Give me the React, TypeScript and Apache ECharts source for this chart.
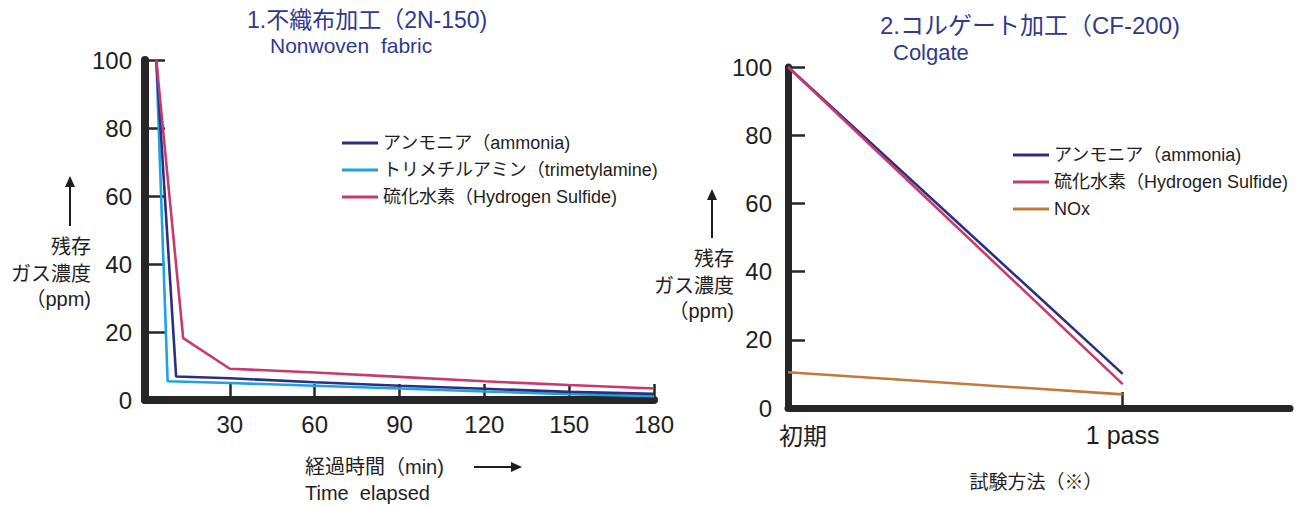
import React, { useEffect, useRef } from "react";
import * as echarts from "echarts";

const FONT = '"Liberation Sans", Arial, "Noto Sans CJK JP", sans-serif';
const CJK = '"Noto Sans CJK JP", "Liberation Sans", sans-serif';
const INK = "#1e1e1e";
const AXIS = "#262626";
const TITLE = "#2f3a8f";

// ---- Chart 1: 不織布加工 (2N-150) ----
const xTicks1 = [30, 60, 90, 120, 150, 180];
const yTicks = [0, 20, 40, 60, 80, 100];
const names1 = [
  "アンモニア（ammonia)",
  "トリメチルアミン（trimetylamine)",
  "硫化水素（Hydrogen Sulfide)",
];
const ammoniaT1 = [4, 11, 30, 60, 90, 120, 150, 180];
const ammoniaV1 = [100, 6.9, 6.4, 5.2, 4.2, 3.3, 2.4, 1.8];
const tmaT1 = [4, 8, 30, 60, 90, 120, 150, 180];
const tmaV1 = [100, 5.5, 5.0, 4.2, 3.4, 2.5, 1.7, 1.1];
const h2sT1 = [4, 13.5, 30, 60, 90, 120, 150, 180];
const h2sV1 = [100, 18.2, 9.2, 8.1, 6.8, 5.5, 4.4, 3.4];

// ---- Chart 2: コルゲート加工 (CF-200) ----
const passPos = [0, 1];
const passLabels = ["初期", "1 pass"];
const names2 = ["アンモニア（ammonia)", "硫化水素（Hydrogen Sulfide)", "NOx"];
const ammoniaV2 = [100, 10];
const h2sV2 = [100, 7];
const noxV2 = [10.5, 4];

const C_NAVY = "#2b2f80";
const C_CYAN = "#1fa3e0";
const C_PINK = "#c93a6c";
const C_NOX = "#c07a3c";

const pairs = (xs: number[], ys: number[]) => xs.map((x, i) => [x, ys[i]]);

const txt = (text: string, x: number, y: number, size: number, align = "right", font = FONT) => ({
  type: "text",
  x,
  y,
  style: {
    text,
    fill: INK,
    font: `${size}px ${font}`,
    align,
    verticalAlign: "middle",
  },
});

const upArrow = (x: number, tip: number, bottom: number) => [
  { type: "line", shape: { x1: x, y1: bottom, x2: x, y2: tip + 8 }, style: { stroke: INK, lineWidth: 2 } },
  { type: "polygon", shape: { points: [[x - 5, tip + 11], [x, tip], [x + 5, tip + 11]] }, style: { fill: INK } },
];

const rightArrow = (x1: number, tip: number, y: number) => [
  { type: "line", shape: { x1, y1: y, x2: tip - 8, y2: y }, style: { stroke: INK, lineWidth: 2 } },
  { type: "polygon", shape: { points: [[tip - 11, y - 5], [tip, y], [tip - 11, y + 5]] }, style: { fill: INK } },
];

const yAxisBase = (gridIndex: number, tickLen: number, margin: number, width: number) => ({
  gridIndex,
  type: "value",
  min: 0,
  max: 100,
  interval: 20,
  axisLine: { show: true, lineStyle: { color: AXIS, width } },
  axisTick: { show: true, inside: true, length: tickLen, customValues: yTicks, lineStyle: { color: AXIS, width: 2.5 } },
  axisLabel: { fontSize: 24, color: INK, fontFamily: FONT, margin, customValues: yTicks },
  splitLine: { show: false },
});

const lineSeries = (name: string, xi: number, data: number[][], color: string, z = 2) => ({
  type: "line",
  name,
  xAxisIndex: xi,
  yAxisIndex: xi,
  data,
  symbol: "none",
  z,
  lineStyle: { color, width: 2.6 },
  itemStyle: { color },
});

const titleStyle = (size: number) => ({ color: TITLE, fontSize: size, fontWeight: "normal", fontFamily: FONT });

const option = {
  animation: false,
  backgroundColor: "#ffffff",
  title: [
    { text: "1.不織布加工（2N-150)", left: 247, top: 8, padding: 0, textStyle: titleStyle(23) },
    { text: "Nonwoven  fabric", left: 270, top: 35, padding: 0, textStyle: titleStyle(21) },
    { text: "2.コルゲート加工（CF-200)", left: 880, top: 13, padding: 0, textStyle: titleStyle(24) },
    { text: "Colgate", left: 893, top: 41, padding: 0, textStyle: titleStyle(22) },
  ],
  legend: [
    {
      data: names1,
      orient: "vertical",
      left: 342,
      top: 133,
      icon: "rect",
      itemWidth: 36,
      itemHeight: 3,
      itemGap: 7,
      padding: 0,
      selectedMode: false,
      textStyle: { fontSize: 18, lineHeight: 20, color: INK, fontFamily: FONT },
    },
    {
      data: names2,
      orient: "vertical",
      left: 1013,
      top: 145,
      icon: "rect",
      itemWidth: 36,
      itemHeight: 3,
      itemGap: 7,
      padding: 0,
      selectedMode: false,
      textStyle: { fontSize: 18, lineHeight: 20, color: INK, fontFamily: FONT },
    },
  ],
  grid: [
    { left: 145, top: 60, width: 509, height: 340 },
    { left: 788, top: 67, width: 502, height: 341 },
  ],
  xAxis: [
    {
      gridIndex: 0,
      type: "value",
      min: 0,
      max: 180,
      interval: 30,
      axisLine: { show: true, lineStyle: { color: AXIS, width: 8 } },
      axisTick: { show: true, inside: true, length: 16, customValues: xTicks1, lineStyle: { color: AXIS, width: 2.5 } },
      axisLabel: { customValues: xTicks1, fontSize: 24, color: INK, fontFamily: FONT, margin: 12 },
      splitLine: { show: false },
    },
    {
      gridIndex: 1,
      type: "value",
      min: 0,
      max: 1.5,
      interval: 0.5,
      axisLine: { show: true, lineStyle: { color: AXIS, width: 7 } },
      axisTick: { show: true, inside: true, length: 16, customValues: [1], lineStyle: { color: AXIS, width: 2.5 } },
      axisLabel: {
        customValues: passPos,
        margin: 14,
        formatter: (v: number) => {
          const i = passPos.indexOf(v);
          return i === 0 ? `{a|${passLabels[0]}}` : `{b|${passLabels[i]}}`;
        },
        rich: {
          a: { fontSize: 24, color: INK, fontFamily: CJK, padding: [0, 0, 0, 30] },
          b: { fontSize: 25, color: INK, fontFamily: FONT },
        },
      },
      splitLine: { show: false },
    },
  ],
  yAxis: [yAxisBase(0, 20, 13, 8), yAxisBase(1, 17, 16, 7)],
  series: [
    lineSeries(names1[0], 0, pairs(ammoniaT1, ammoniaV1), C_NAVY, 3),
    lineSeries(names1[1], 0, pairs(tmaT1, tmaV1), C_CYAN, 2),
    lineSeries(names1[2], 0, pairs(h2sT1, h2sV1), C_PINK, 4),
    lineSeries(names2[0], 1, pairs(passPos, ammoniaV2), C_NAVY, 3),
    lineSeries(names2[1], 1, pairs(passPos, h2sV2), C_PINK, 4),
    lineSeries(names2[2], 1, pairs(passPos, noxV2), C_NOX, 2),
  ],
  graphic: [
    ...upArrow(70, 176, 226),
    txt("残存", 91, 245, 20, "right", CJK),
    txt("ガス濃度", 91, 272, 20, "right", CJK),
    txt("（ppm)", 91, 299, 20, "right"),
    ...upArrow(712, 189, 238),
    txt("残存", 734, 257, 20, "right", CJK),
    txt("ガス濃度", 734, 284, 20, "right", CJK),
    txt("（ppm)", 734, 311, 20, "right"),
    txt("経過時間（min)", 305, 467, 20, "left"),
    ...rightArrow(474, 522, 467),
    txt("Time  elapsed", 305, 493, 20, "left"),
    txt("試験方法（※）", 1036, 480, 19, "center", CJK),
  ],
};

export default function App() {
  const ref = useRef<HTMLDivElement>(null);
  useEffect(() => {
    const chart = echarts.init(ref.current as HTMLDivElement, null, { renderer: "svg" });
    chart.setOption(option as any);
    return () => chart.dispose();
  }, []);
  return (
    <div
      ref={ref}
      style={{ position: "absolute", left: 0, top: 0, width: 1308, height: 506, background: "#fff" }}
    />
  );
}
